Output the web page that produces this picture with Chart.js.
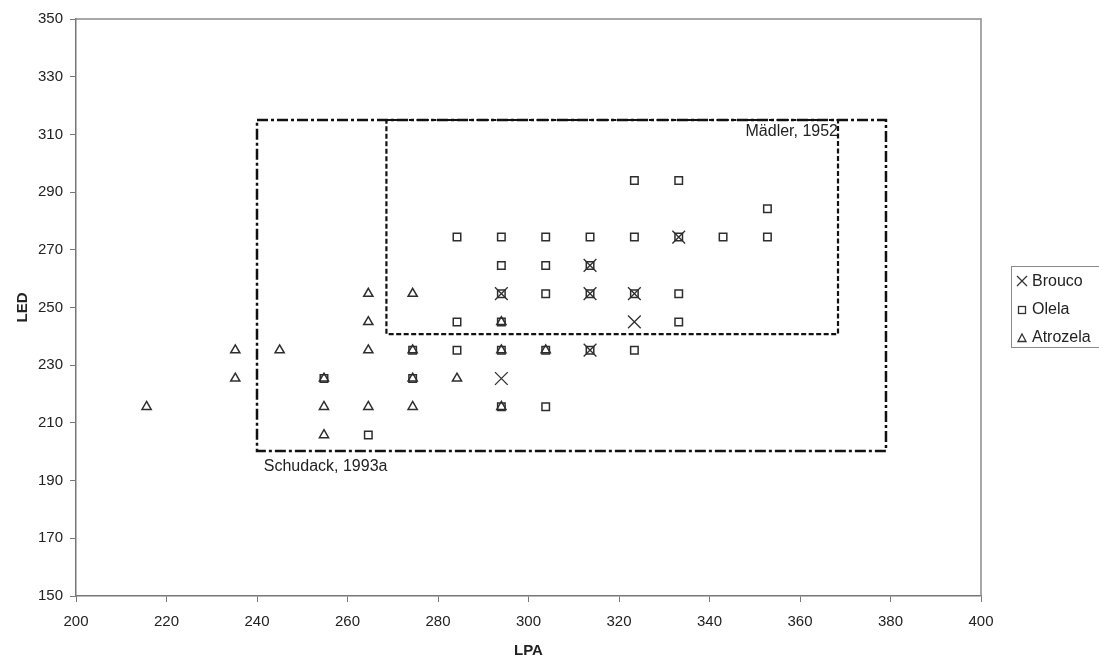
<!DOCTYPE html>
<html>
<head>
<meta charset="utf-8">
<script src="https://cdn.jsdelivr.net/npm/chart.js@4/dist/chart.umd.min.js"></script>
<style>
  html, body { margin: 0; padding: 0; background: #fff; }
  #wrap { position: relative; width: 1099px; height: 664px; overflow: hidden; }
  #legend { position: absolute; left: 1011px; top: 266px; width: 110px; height: 82px;
            border: 1px solid #8a8a8a; box-sizing: border-box; font-family: "Liberation Sans", Arial, sans-serif;
            font-size: 16px; color: #222; }
  .row { position: absolute; left: 0; height: 20px; display: flex; align-items: center; }
  .row svg { margin-left: 3px; margin-right: 3px; }
</style>
</head>
<body>
<div id="wrap">
  <canvas id="c" width="1099" height="664"></canvas>
  <div id="legend">
    <div class="row" style="top:4px"><svg width="14" height="14"><path d="M2 2 L12 12 M12 2 L2 12" stroke="#333" stroke-width="1.3" fill="none"/></svg><span>Brouco</span></div>
    <div class="row" style="top:32px"><svg width="14" height="14"><rect x="3.5" y="4.5" width="7" height="7" stroke="#333" stroke-width="1.3" fill="none"/></svg><span>Olela</span></div>
    <div class="row" style="top:60px"><svg width="14" height="14"><path d="M7 4 L11 11.5 L3 11.5 Z" stroke="#333" stroke-width="1.3" fill="none"/></svg><span>Atrozela</span></div>
  </div>
</div>
<script>
// ---- data ----
const seriesNames = ["Brouco", "Olela", "Atrozela"];

const broucoX = [294.0, 294.0, 313.6, 313.6, 313.6, 323.4, 323.4, 333.2];
const broucoY = [254.8, 225.4, 264.6, 254.8, 235.2, 254.8, 245.0, 274.4];

const olelaX = [254.8, 264.6, 274.4, 274.4, 284.2, 284.2, 284.2,
                294.0, 294.0, 294.0, 294.0, 294.0, 294.0,
                303.8, 303.8, 303.8, 303.8, 303.8,
                313.6, 313.6, 313.6, 313.6,
                323.4, 323.4, 323.4, 323.4,
                333.2, 333.2, 333.2, 333.2,
                343.0, 352.8, 352.8];
const olelaY = [225.4, 205.8, 235.2, 225.4, 274.4, 245.0, 235.2,
                274.4, 264.6, 254.8, 245.0, 235.2, 215.6,
                274.4, 264.6, 254.8, 235.2, 215.6,
                274.4, 264.6, 254.8, 235.2,
                294.0, 274.4, 254.8, 235.2,
                294.0, 274.4, 254.8, 245.0,
                274.4, 284.2, 274.4];

const atrozelaX = [215.6, 235.2, 235.2, 245.0, 254.8, 254.8, 254.8,
                   264.6, 264.6, 264.6, 264.6,
                   274.4, 274.4, 274.4, 274.4,
                   284.2, 294.0, 294.0, 294.0, 303.8];
const atrozelaY = [215.6, 225.4, 235.2, 235.2, 225.4, 215.6, 205.8,
                   254.8, 245.0, 235.2, 215.6,
                   254.8, 235.2, 225.4, 215.6,
                   225.4, 245.0, 235.2, 215.6, 235.2];

// outline boxes (data coordinates)
const schudackX = [240.0, 379.0, 379.0, 240.0, 240.0];
const schudackY = [315.0, 315.0, 200.3, 200.3, 315.0];
const madlerX = [268.6, 368.4, 368.4, 268.6, 268.6];
const madlerY = [315.0, 315.0, 240.8, 240.8, 315.0];

const boxLabels = ["Mädler, 1952", "Schudack, 1993a"];
const boxLabelX = [368.4, 241.5];
const boxLabelY = [310.8, 195.0];

const xTicks = [200, 220, 240, 260, 280, 300, 320, 340, 360, 380, 400];
const yTicks = [150, 170, 190, 210, 230, 250, 270, 290, 310, 330, 350];

const toPts = (xs, ys) => xs.map((x, i) => ({x: x, y: ys[i]}));

const FONT = '"Liberation Sans", Arial, sans-serif';
const markColor = '#2e2e2e';

const frame = {
  id: 'frame',
  afterDatasetsDraw(chart) {
    const {ctx, chartArea: a, scales} = chart;
    ctx.save();
    ctx.strokeStyle = '#8a8a8a';
    ctx.lineWidth = 1.5;
    ctx.beginPath();
    ctx.moveTo(a.left, a.top); ctx.lineTo(a.right, a.top); ctx.lineTo(a.right, a.bottom);
    ctx.stroke();
    ctx.fillStyle = '#222';
    ctx.font = '16px ' + FONT;
    ctx.textBaseline = 'middle';
    ctx.textAlign = 'right';
    ctx.fillText(boxLabels[0], scales.x.getPixelForValue(boxLabelX[0]), scales.y.getPixelForValue(boxLabelY[0]));
    ctx.textAlign = 'left';
    ctx.fillText(boxLabels[1], scales.x.getPixelForValue(boxLabelX[1]), scales.y.getPixelForValue(boxLabelY[1]));
    ctx.restore();
  }
};

new Chart(document.getElementById('c'), {
  type: 'scatter',
  data: {
    datasets: [
      { label: seriesNames[0], data: toPts(broucoX, broucoY), pointStyle: 'crossRot', radius: 9,
        borderColor: markColor, backgroundColor: 'transparent', borderWidth: 1.3, order: 1 },
      { label: seriesNames[1], data: toPts(olelaX, olelaY), pointStyle: 'rect', radius: 5.3,
        borderColor: markColor, backgroundColor: 'transparent', borderWidth: 1.5, order: 2 },
      { label: seriesNames[2], data: toPts(atrozelaX, atrozelaY), pointStyle: 'triangle', radius: 5.3,
        borderColor: markColor, backgroundColor: 'transparent', borderWidth: 1.5, order: 3 },
      { label: 'Schudack', data: toPts(schudackX, schudackY), showLine: true, pointRadius: 0,
        borderColor: '#111', borderWidth: 2.5, borderDash: [11, 3, 3, 3], tension: 0, fill: false, order: 5 },
      { label: 'Madler', data: toPts(madlerX, madlerY), showLine: true, pointRadius: 0,
        borderColor: '#111', borderWidth: 2.2, borderDash: [5, 2.5], tension: 0, fill: false, order: 4 }
    ]
  },
  options: {
    responsive: false,
    animation: false,
    devicePixelRatio: 1,
    layout: { padding: { left: 0, right: 118, top: 19, bottom: 0 } },
    plugins: { legend: { display: false }, tooltip: { enabled: false } },
    scales: {
      x: {
        type: 'linear', min: 200, max: 400,
        afterBuildTicks: (s) => { s.ticks = xTicks.map(v => ({value: v})); },
        afterFit: (s) => { s.height = 68; },
        ticks: { color: '#222', font: { family: FONT, size: 15 }, padding: 11 },
        grid: { drawOnChartArea: false, drawTicks: true, tickLength: 6, color: '#777', tickColor: '#777' },
        border: { display: true, color: '#777', width: 1.5 },
        title: { display: true, text: 'LPA', color: '#222', font: { family: FONT, size: 15, weight: 'bold' }, padding: { top: 0, bottom: 4 } }
      },
      y: {
        type: 'linear', min: 150, max: 350,
        afterBuildTicks: (s) => { s.ticks = yTicks.map(v => ({value: v})); },
        afterFit: (s) => { s.width = 76; },
        ticks: { color: '#222', font: { family: FONT, size: 15 }, padding: 7 },
        grid: { drawOnChartArea: false, drawTicks: true, tickLength: 6, color: '#777', tickColor: '#777' },
        border: { display: true, color: '#777', width: 1.5 },
        title: { display: true, text: 'LED', color: '#222', font: { family: FONT, size: 15, weight: 'bold' }, padding: { top: 14, bottom: 0 } }
      }
    }
  },
  plugins: [frame]
});
</script>
</body>
</html>
